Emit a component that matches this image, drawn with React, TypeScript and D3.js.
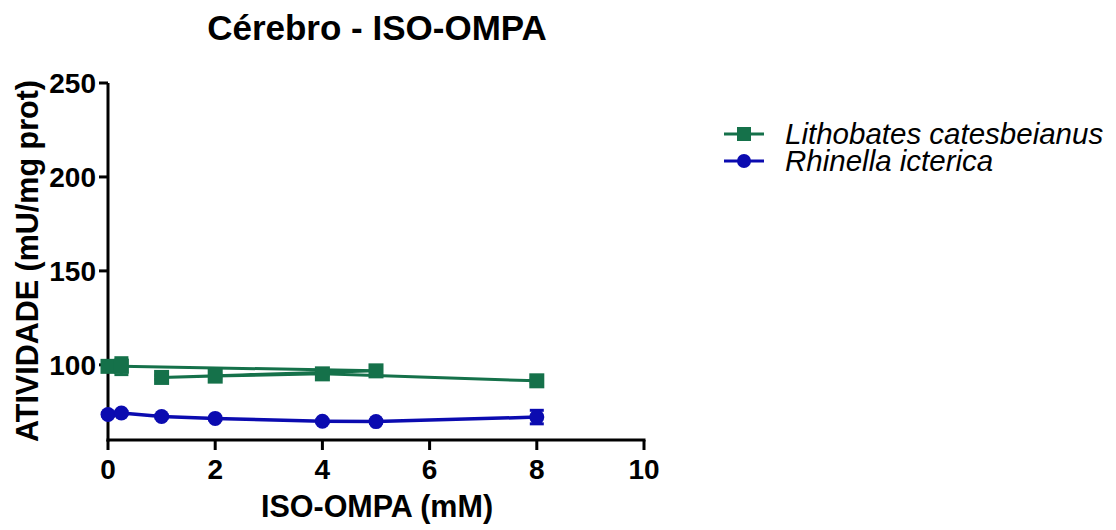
import React from 'react';
import * as d3 from 'd3';

// concentrations in the order the points were entered (line follows entry order)
const lithoX = [0, 0.25, 5, 1, 2, 4, 8];
const lithoY = [99.2, 99.3, 96.8, 93.3, 94.0, 95.2, 91.5];
const lithoErr = [1.0, 4.5, 1.0, 1.0, 1.0, 1.0, 1.0];

const rhinX = [0, 0.25, 1, 2, 4, 5, 8];
const rhinY = [73.6, 74.4, 72.5, 71.5, 70.0, 69.8, 72.2];
const rhinErr = [0.8, 0.8, 0.8, 0.8, 0.8, 0.8, 3.6];

const xTicks = [0, 2, 4, 6, 8, 10];
const yTicks = [100, 150, 200, 250];

const GREEN = '#15714a';
const BLUE = '#0b0bb0';
const FONT = '"Liberation Sans", Arial, sans-serif';

const App = () => {
  const width = 1116;
  const height = 530;

  const x = d3.scaleLinear().domain([0, 10]).range([108, 644]);
  const y = d3.scaleLinear().domain([60, 250]).range([440, 83]);

  const line = d3.line<[number, number]>()
    .x(d => x(d[0]))
    .y(d => y(d[1]));

  const litho: [number, number][] = lithoX.map((v, i) => [v, lithoY[i]]);
  const rhin: [number, number][] = rhinX.map((v, i) => [v, rhinY[i]]);

  const errBars = (xs: number[], ys: number[], es: number[], color: string) =>
    xs.map((v, i) => {
      const cx = x(v);
      const top = y(ys[i] + es[i]);
      const bot = y(ys[i] - es[i]);
      return (
        <g key={i} stroke={color} strokeWidth={3}>
          <line x1={cx} x2={cx} y1={top} y2={bot} />
          <line x1={cx - 7} x2={cx + 7} y1={top} y2={top} />
          <line x1={cx - 7} x2={cx + 7} y1={bot} y2={bot} />
        </g>
      );
    });

  return (
    <svg width={width} height={height} style={{ position: 'absolute', left: 0, top: 0, background: '#fff' }}
      fontFamily={FONT}>
      {/* title */}
      <text x={377} y={40} textAnchor="middle" fontSize={35} fontWeight="bold">Cérebro - ISO-OMPA</text>

      {/* axes */}
      <g stroke="#000" strokeWidth={3} fill="none">
        <line x1={x(0)} x2={x(0)} y1={y(250)} y2={y(60) + 1.5} />
        <line x1={x(0) - 1.5} x2={x(10) + 1.5} y1={y(60)} y2={y(60)} />
        {yTicks.map(t => (
          <line key={t} x1={x(0) - 9} x2={x(0)} y1={y(t)} y2={y(t)} />
        ))}
        {xTicks.map(t => (
          <line key={t} x1={x(t)} x2={x(t)} y1={y(60)} y2={y(60) + 10} />
        ))}
      </g>
      <g fontSize={28} fontWeight="bold" fill="#000">
        {yTicks.map(t => (
          <text key={t} x={x(0) - 12} y={y(t) + 10} textAnchor="end">{t}</text>
        ))}
        {xTicks.map(t => (
          <text key={t} x={x(t)} y={479} textAnchor="middle">{t}</text>
        ))}
      </g>

      {/* axis titles */}
      <text x={377} y={517} textAnchor="middle" fontSize={30.5} fontWeight="bold">ISO-OMPA (mM)</text>
      <text transform="translate(38,261) rotate(-90)" textAnchor="middle" fontSize={30.5} fontWeight="bold">
        ATIVIDADE (mU/mg prot)
      </text>

      {/* Lithobates */}
      <path d={line(litho) ?? ''} fill="none" stroke={GREEN} strokeWidth={3} />
      {errBars(lithoX, lithoY, lithoErr, GREEN)}
      {litho.map((d, i) => (
        <rect key={i} x={x(d[0]) - 7.5} y={y(d[1]) - 7.5} width={15} height={15} fill={GREEN} />
      ))}

      {/* Rhinella */}
      <path d={line(rhin) ?? ''} fill="none" stroke={BLUE} strokeWidth={3.5} />
      {errBars(rhinX, rhinY, rhinErr, BLUE)}
      {rhin.map((d, i) => (
        <circle key={i} cx={x(d[0])} cy={y(d[1])} r={7.5} fill={BLUE} />
      ))}

      {/* legend */}
      <g>
        <line x1={724} x2={764} y1={134} y2={134} stroke={GREEN} strokeWidth={3} />
        <rect x={737} y={127} width={14} height={14} fill={GREEN} />
        <text x={785} y={144} fontSize={29.5} fontStyle="italic">Lithobates catesbeianus</text>
        <line x1={724} x2={764} y1={161} y2={161} stroke={BLUE} strokeWidth={3} />
        <circle cx={744} cy={161} r={7} fill={BLUE} />
        <text x={785} y={171} fontSize={29.5} fontStyle="italic">Rhinella icterica</text>
      </g>
    </svg>
  );
};

export default App;
